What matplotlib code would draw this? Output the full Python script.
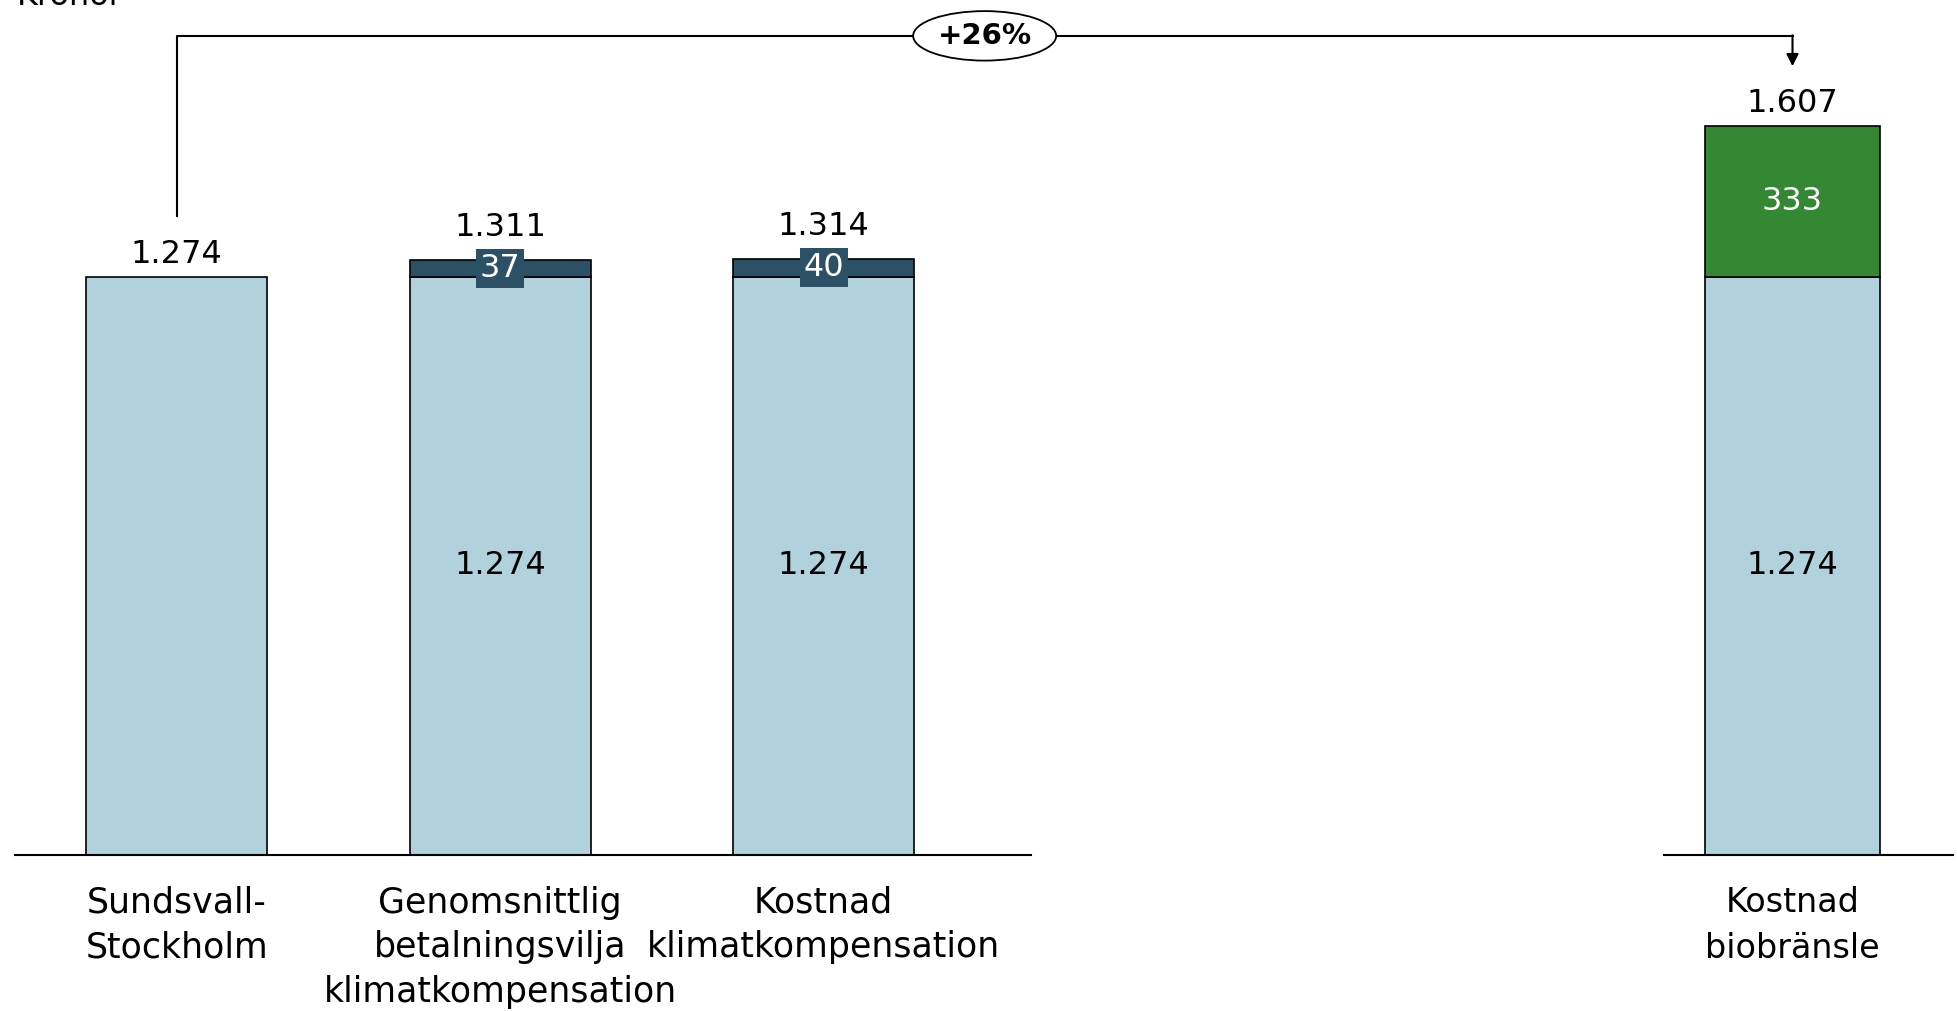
import matplotlib.pyplot as plt
import numpy as np

# Kostnad per resa, kronor
left_labels = ["Sundsvall-\nStockholm", "Genomsnittlig\nbetalningsvilja\nklimatkompensation",
               "Kostnad\nklimatkompensation"]
left_base = [1274, 1274, 1274]
left_extra = [0, 37, 40]

right_label = "Kostnad\nbiobränsle"
right_base = 1274
right_extra = 333

light_blue = "#B1D1DC"
dark_blue = "#2C5066"
green = "#348834"

plt.rcParams['font.family'] = ['DejaVu Sans']

fig = plt.figure(figsize=(19.57, 10.11), dpi=100)
ymax = 1884
ax1 = fig.add_axes([0.0077, 0.1543, 0.519, 0.8457])
ax2 = fig.add_axes([0.8503, 0.1543, 0.1477, 0.8457])

for ax in (ax1, ax2):
    ax.set_ylim(0, ymax)
    ax.patch.set_visible(False)
    for s in ['top', 'right', 'left']:
        ax.spines[s].set_visible(False)
    ax.spines['bottom'].set_linewidth(1.5)
    ax.set_yticks([])
    ax.tick_params(axis='x', length=0, pad=22)

# left panel
x = np.arange(len(left_base))
ax1.set_xlim(-0.50, 2.64)
ax1.bar(x, left_base, width=0.56, color=light_blue, edgecolor='black', linewidth=1.2)
for i in range(len(x)):
    tot = left_base[i] + left_extra[i]
    if left_extra[i] > 0:
        ax1.bar(x[i], left_extra[i], bottom=left_base[i], width=0.56, color=dark_blue,
                edgecolor='black', linewidth=1.2)
        ax1.text(x[i], left_base[i] + left_extra[i] / 2, str(left_extra[i]), ha='center', va='center',
                 color='white', fontsize=23,
                 bbox=dict(boxstyle='square,pad=0.12', fc=dark_blue, ec='none'))
        ax1.text(x[i], left_base[i] / 2, f"{left_base[i] / 1000:.3f}", ha='center', va='center', fontsize=23)
        ax1.annotate(f"{tot / 1000:.3f}", (x[i], tot), xytext=(0, 12), textcoords='offset points',
                     ha='center', va='bottom', fontsize=23)
    else:
        ax1.annotate(f"{tot / 1000:.3f}", (x[i], tot), xytext=(0, 5), textcoords='offset points',
                     ha='center', va='bottom', fontsize=23)
ax1.set_xticks(x)
ax1.set_xticklabels(left_labels, fontsize=25, linespacing=1.4, va='top')

# right panel
ax2.set_xlim(-0.40, 0.50)
ax2.bar([0], [right_base], width=0.545, color=light_blue, edgecolor='black', linewidth=1.2)
ax2.bar([0], [right_extra], bottom=[right_base], width=0.545, color=green, edgecolor='black', linewidth=1.2)
ax2.text(0, right_base / 2, f"{right_base / 1000:.3f}", ha='center', va='center', fontsize=23)
ax2.text(0, right_base + right_extra / 2, str(right_extra), ha='center', va='center', fontsize=23, color='white')
ax2.annotate(f"{(right_base + right_extra) / 1000:.3f}", (0, right_base + right_extra), xytext=(0, 5),
             textcoords='offset points', ha='center', va='bottom', fontsize=23)
ax2.set_xticks([0])
ax2.set_xticklabels([right_label], fontsize=24, linespacing=1.5, va='top')

# bracket showing the increase
y_top = 1805
x_end = ax1.transData.inverted().transform(ax2.transData.transform((0, 0)))[0]
ax1.plot([0, 0, x_end], [1408, y_top, y_top], color='black', lw=1.5, clip_on=False)
ax2.annotate("", xy=(0, 1738), xytext=(0, y_top + 1),
             arrowprops=dict(arrowstyle='-|>', color='black', lw=1.5, mutation_scale=18, shrinkA=0, shrinkB=0),
             annotation_clip=False)
pct = (right_base + right_extra) / left_base[0] - 1
ax1.text(x_end / 2, y_top, f"+{pct * 100:.0f}%", ha='center', va='center', fontsize=21, fontweight='bold',
         bbox=dict(boxstyle='ellipse,pad=0.12', fc='white', ec='black', lw=1.3), clip_on=False)

fig.text(17 / 1957, 1 - 5 / 1011, "Kronor", fontsize=23, va='baseline', ha='left')

fig.savefig("out.png", dpi=100)
